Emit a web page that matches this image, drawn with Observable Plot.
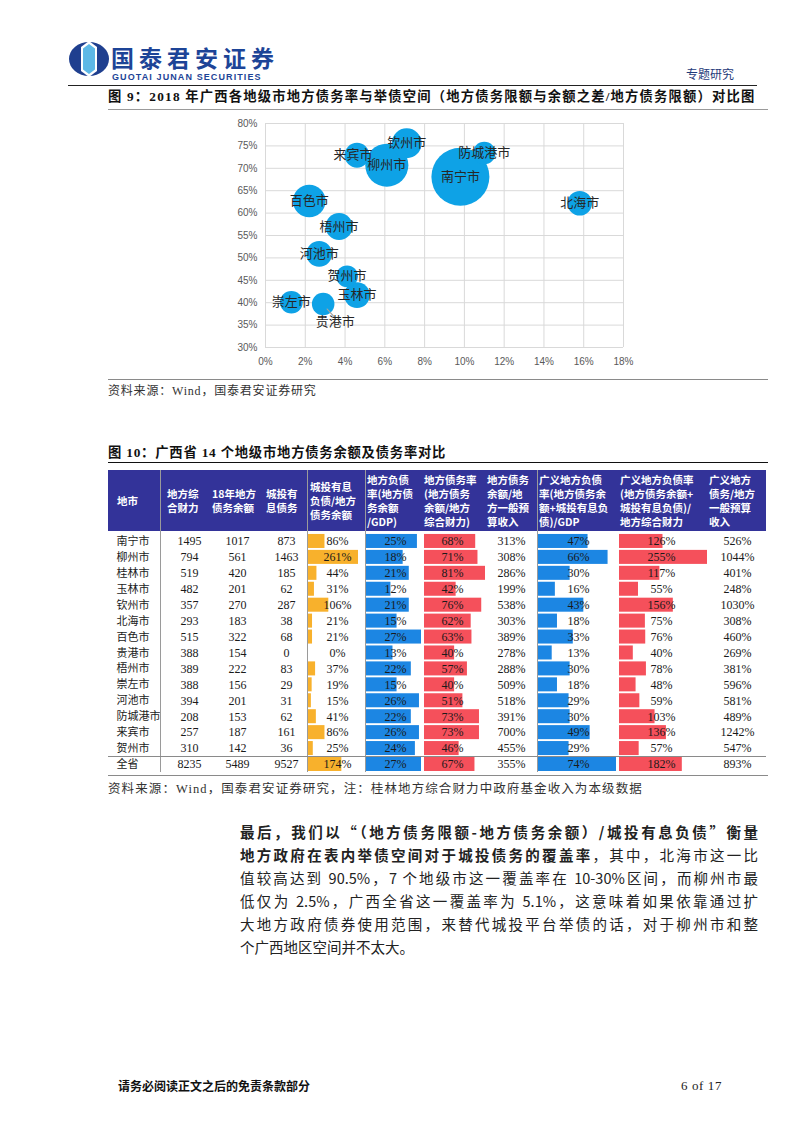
<!DOCTYPE html>
<html><head><meta charset="utf-8">
<script src="https://cdn.jsdelivr.net/npm/d3@7"></script>
<script src="https://cdn.jsdelivr.net/npm/@observablehq/plot@0.6"></script>
<style>
html,body{margin:0;padding:0;background:#fff;}
#page{position:relative;width:802px;height:1133px;overflow:hidden;background:#fff;font-family:"Liberation Serif","Noto Sans CJK SC",serif;color:#1a1a1a;}
#page > *{position:absolute;}
.hdr{position:absolute;color:#fff;font-family:"Noto Sans CJK SC",sans-serif;font-weight:700;font-size:10.5px;line-height:14px;white-space:nowrap;}
.para{position:absolute;left:240px;width:518px;font-family:"Noto Sans CJK SC",sans-serif;font-size:14.5px;line-height:23px;text-align:justify;text-align-last:justify;white-space:nowrap;color:#222;}
</style></head><body><div id="page"></div>
<script>
// ---------- Figure 9 data (bubble chart) ----------
const bubbleCities = ["南宁市","柳州市","钦州市","来宾市","防城港市","北海市","百色市","梧州市","河池市","贺州市","玉林市","崇左市","贵港市"];
const borrowSpace  = [9.8, 6.1, 7.1, 4.6, 11.0, 15.8, 2.2, 3.7, 2.7, 4.1, 4.6, 1.3, 2.9];   // x, %
const debtRate     = [68.1, 70.7, 75.6, 72.9, 73.4, 62.2, 62.7, 57.0, 50.9, 45.9, 41.7, 40.1, 39.7]; // y, %
const debtBalance  = [1017, 561, 270, 187, 153, 183, 322, 222, 201, 142, 201, 156, 154];   // bubble size
const xTicks = [0, 2, 4, 6, 8, 10, 12, 14, 16, 18];
const yTicks = [30, 35, 40, 45, 50, 55, 60, 65, 70, 75, 80];

// ---------- Figure 10 data (table) ----------
const cities      = ["南宁市","柳州市","桂林市","玉林市","钦州市","北海市","百色市","贵港市","梧州市","崇左市","河池市","防城港市","来宾市","贺州市","全省"];
const finance     = [1495, 794, 519, 482, 357, 293, 515, 388, 389, 388, 394, 208, 257, 310, 8235];
const debt18      = [1017, 561, 420, 201, 270, 183, 322, 154, 222, 156, 201, 153, 187, 142, 5489];
const lgfvDebt    = [873, 1463, 185, 62, 287, 38, 68, 0, 83, 29, 31, 62, 161, 36, 9527];
const lgfvRatio   = [86, 261, 44, 31, 106, 21, 21, 0, 37, 19, 15, 41, 86, 25, 174];
const debtGdp     = [25, 18, 21, 12, 21, 15, 27, 13, 22, 15, 26, 22, 26, 24, 27];
const debtRatio   = [68, 71, 81, 42, 76, 62, 63, 40, 57, 40, 51, 73, 73, 46, 67];
const debtBudget  = [313, 308, 286, 199, 538, 303, 389, 278, 288, 509, 518, 391, 700, 455, 355];
const broadGdp    = [47, 66, 30, 16, 43, 18, 33, 13, 30, 18, 29, 30, 49, 29, 74];
const broadRatio  = [126, 255, 117, 55, 156, 75, 76, 40, 78, 48, 59, 103, 136, 57, 182];
const broadBudget = [526, 1044, 401, 248, 1030, 308, 460, 269, 381, 596, 581, 489, 1242, 547, 893];
const headerLabels = ["地市","地方综<br>合财力","18年地方<br>债务余额","城投有<br>息债务","城投有息<br>负债/地方<br>债务余额",
  "地方负债<br>率(地方债<br>务余额<br>/GDP)","地方债务率<br>(地方债务<br>余额/地方<br>综合财力)","地方债务<br>余额/地<br>方一般预<br>算收入",
  "广义地方负债<br>率(地方债务余<br>额+城投有息负<br>债)/GDP","广义地方负债率<br>(地方债务余额+<br>城投有息负债)/<br>地方综合财力","广义地方<br>债务/地方<br>一般预算<br>收入"];

// ---------- helpers ----------
const page = document.getElementById("page");
function add(html, css) { const d = document.createElement("div"); d.innerHTML = html; Object.assign(d.style, css); d.style.position = "absolute"; page.appendChild(d); return d; }
function hline(x1, x2, y, color, w) { add("", {left: x1 + "px", top: y + "px", width: (x2 - x1) + "px", height: "0", borderTop: w + "px solid " + color}); }
function vline(x, y1, y2, color, w) { add("", {left: x + "px", top: y1 + "px", width: "0", height: (y2 - y1) + "px", borderLeft: w + "px solid " + color}); }
function text(str, left, cy, size, lh, extra) { return add(str, Object.assign({left: left + "px", top: (cy - lh / 2) + "px", fontSize: size + "px", lineHeight: lh + "px", whiteSpace: "nowrap"}, extra || {})); }
function place(el, left, top) { el.style.position = "absolute"; el.style.left = left + "px"; el.style.top = top + "px"; page.appendChild(el); }

// ---------- page header ----------
add(`<svg width="42" height="36" viewBox="0 0 42 36">
  <ellipse cx="21" cy="18" rx="20" ry="17" fill="#1f3f8f"/>
  <polygon points="21,0 29,6 29,30 21,36 13,30 13,6" fill="#fff"/>
  <polygon points="21,3 27,7.5 27,28.5 21,33 15,28.5 15,7.5" fill="#5db8e6"/>
</svg>`, {left: "68px", top: "41px"});
text("国泰君安证券", 111, 56.5, 23, 22, {fontFamily: "'Noto Sans CJK SC',sans-serif", fontWeight: 700, color: "#1d4497", letterSpacing: "5px"});
text("GUOTAI JUNAN SECURITIES", 112, 77.5, 9, 9, {fontFamily: "'Liberation Sans',Arial,sans-serif", fontWeight: 700, color: "#1d4497", letterSpacing: "1.1px"});
text("专题研究", 686, 74, 12, 14, {fontFamily: "'Noto Sans CJK SC',sans-serif", color: "#1f3a7a"});
hline(68, 757, 85, "#222", 1);

// ---------- Figure 9 ----------
text("图 9：2018 年广西各地级市地方债务率与举债空间（地方债务限额与余额之差/地方债务限额）对比图", 108, 97, 13.3, 16, {fontWeight: 700, color: "#111", letterSpacing: "1.2px"});
hline(108, 768, 109, "#9a9a9a", 1);

const bubbles = bubbleCities.map((c, i) => ({city: c, space: borrowSpace[i], rate: debtRate[i], balance: debtBalance[i]}));
const plainLabels = bubbles.filter(d => d.city !== "来宾市" && d.city !== "贵港市");
const labelStyle = {fontSize: 13, fontFamily: "'Noto Sans CJK SC',sans-serif", fill: "#262626"};
const bubbleChart = Plot.plot({
  width: 420, height: 260,
  marginLeft: 40, marginRight: 22, marginTop: 10, marginBottom: 26,
  style: {fontFamily: "'Liberation Sans',Arial,sans-serif", fontSize: "10px", background: "transparent", overflow: "visible"},
  x: {domain: [0, 18]},
  y: {domain: [30, 80]},
  r: {domain: [0, 1017], range: [0, 29]},
  marks: [
    Plot.gridX(xTicks, {stroke: "#d9d9d9", strokeOpacity: 1}),
    Plot.gridY(yTicks, {stroke: "#d9d9d9", strokeOpacity: 1}),
    Plot.axisX(xTicks, {tickSize: 0, tickPadding: 10, tickFormat: d => d + "%", fill: "#595959", label: null}),
    Plot.axisY(yTicks, {tickSize: 0, tickPadding: 8, tickFormat: d => d + "%", fill: "#595959", label: null}),
    Plot.dot(bubbles, {x: "space", y: "rate", r: "balance", fill: "#0ea2e6"}),
    Plot.vector(bubbles.filter(d => d.city === "贵港市"), {x: "space", y: "rate", length: 12, rotate: 138, anchor: "start", shape: "spike", r: 0, stroke: "#a3a3a3", fill: "none", strokeWidth: 1.2, dx: 4, dy: 5}),
    Plot.text(plainLabels, {x: "space", y: "rate", text: "city", ...labelStyle}),
    Plot.text(bubbles.filter(d => d.city === "来宾市"), {x: "space", y: "rate", text: "city", dx: -4, ...labelStyle}),
    Plot.text(bubbles.filter(d => d.city === "贵港市"), {x: "space", y: "rate", text: "city", dx: 12, dy: 18, ...labelStyle})
  ]
});
place(bubbleChart, 225, 113);

hline(108, 768, 379, "#8a8a8a", 1);
text("资料来源：Wind，国泰君安证券研究", 108, 391, 12, 14, {color: "#333", letterSpacing: "0.8px"});

// ---------- Figure 10 ----------
text("图 10：广西省 14 个地级市地方债务余额及债务率对比", 108, 453, 13.3, 16, {fontWeight: 700, color: "#111", letterSpacing: "0.8px"});
hline(108, 768, 462, "#111", 1.5);

const headTop = 470, headH = 61, bodyTop = 533, rowH = 15.93, bodyH = rowH * cities.length;
add("", {left: "108px", top: headTop + "px", width: "658px", height: headH + "px", background: "#333399"});
const headerLefts = [117, 167, 212, 266, 310, 367, 424, 487, 539, 620, 709];
headerLabels.forEach((h, i) => {
  const d = add(h, {left: headerLefts[i] + "px", top: headTop + "px", height: headH + "px", display: "flex", alignItems: "center"});
  d.className = "hdr";
});

const rows = cities.map((c, i) => ({i, city: c}));
const numFont = "'Liberation Serif','Noto Sans CJK SC',serif";
const rowScale = {domain: cities, range: [0, bodyH], paddingInner: 0.12, paddingOuter: 0.06, round: false, axis: null};
function column(values, left, width, textX, fmt, bar) {
  const data = values.map((v, i) => ({city: cities[i], v}));
  const marks = [];
  if (bar) marks.push(Plot.barX(data, {x: "v", y: "city", fill: bar.color}));
  marks.push(Plot.text(data, {y: "city", text: d => fmt(d.v), frameAnchor: "left", dx: textX - left, textAnchor: "middle",
    fill: "#1a1a1a", fontSize: 12, fontFamily: numFont}));
  const opts = {
    width, height: Math.round(bodyH), margin: 0,
    style: {background: "transparent", overflow: "visible", fontFamily: numFont},
    y: rowScale,
    marks
  };
  if (bar) opts.x = {domain: [0, bar.max], range: [bar.start, bar.start + bar.len], axis: null};
  const svg = Plot.plot(opts);
  place(svg, left, bodyTop);
}
const pct = v => v + "%";
const num = v => String(v);
// city names
const cityCol = Plot.plot({
  width: 52, height: Math.round(bodyH), margin: 0,
  style: {background: "transparent", overflow: "visible"},
  y: rowScale,
  marks: [Plot.text(rows, {y: "city", text: "city", frameAnchor: "left", dx: 8, textAnchor: "start", fontSize: 11,
    fontFamily: "'Noto Sans CJK SC',sans-serif", fill: "#1a1a1a"})]
});
place(cityCol, 108, bodyTop);
column(finance, 165, 48, 189, num);
column(debt18, 213, 48, 237, num);
column(lgfvDebt, 261, 46, 286, num);
column(lgfvRatio, 307, 58, 337, pct, {color: "#f8b12c", max: 261, start: 1, len: 50});
column(debtGdp, 365, 58, 395, pct, {color: "#1c86e3", max: 27, start: 1, len: 55});
column(debtRatio, 423, 64, 452, pct, {color: "#f5505b", max: 81, start: 1, len: 61});
column(debtBudget, 487, 50, 511, pct);
column(broadGdp, 537, 82, 578, pct, {color: "#1c86e3", max: 74, start: 1, len: 78});
column(broadRatio, 619, 89, 661, pct, {color: "#f5505b", max: 255, start: 0, len: 88});
column(broadBudget, 708, 58, 737, pct);

// table rules
[160, 307, 365, 537].forEach(x => vline(x, headTop, bodyTop + bodyH, "#9a9a9a", 1));
hline(108, 766, bodyTop + rowH * 14, "#8a8a8a", 1);
hline(108, 768, 775, "#8a8a8a", 1);
text("资料来源：Wind，国泰君安证券研究，注：桂林地方综合财力中政府基金收入为本级数据", 108, 789, 12.5, 14, {color: "#333", letterSpacing: "1.1px"});

// ---------- paragraph ----------
const paraLines = [
  "<b>最后，我们以“（地方债务限额-地方债务余额）/城投有息负债”衡量</b>",
  "<b>地方政府在表内举债空间对于城投债务的覆盖率</b>，其中，北海市这一比",
  "值较高达到 90.5%，7 个地级市这一覆盖率在 10-30%区间，而柳州市最",
  "低仅为 2.5%，广西全省这一覆盖率为 5.1%，这意味着如果依靠通过扩",
  "大地方政府债券使用范围，来替代城投平台举债的话，对于柳州市和整",
  "个广西地区空间并不太大。"
];
paraLines.forEach((l, i) => {
  const d = add(l, {top: (831 + i * 23 - 11.5) + "px"});
  d.className = "para";
  if (i === paraLines.length - 1) d.style.textAlignLast = "left";
});

// ---------- footer ----------
text("请务必阅读正文之后的免责条款部分", 118, 1086, 12, 14, {fontFamily: "'Noto Sans CJK SC',sans-serif", fontWeight: 700, color: "#111"});
text("6 of 17", 681, 1086, 13, 14, {color: "#222", letterSpacing: "0.6px"});
</script></body></html>
